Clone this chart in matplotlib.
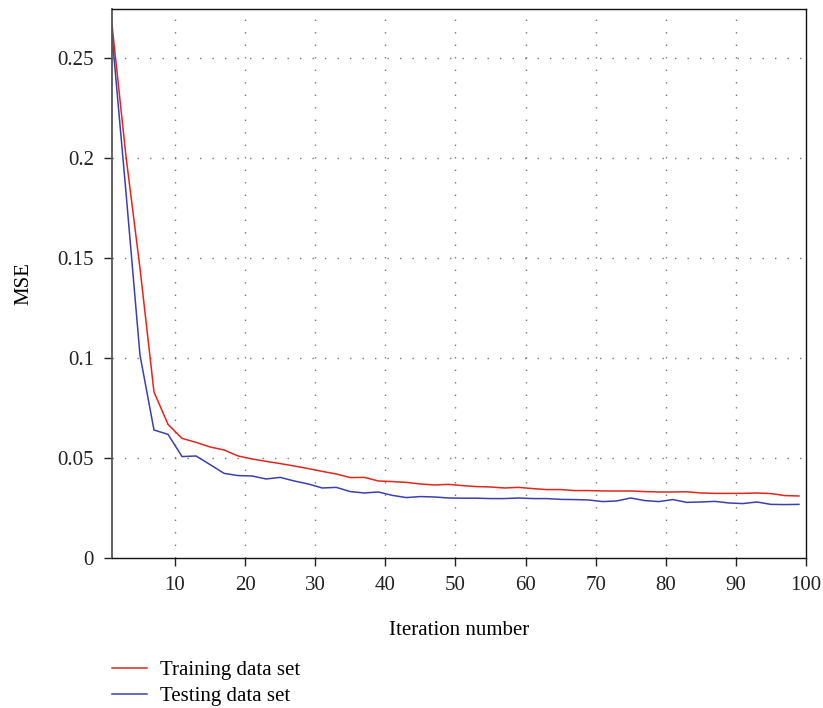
import matplotlib
matplotlib.use("Agg")
import matplotlib.pyplot as plt
import numpy as np

iterations = list(range(1, 100, 2))
train_mse = [0.267, 0.201, 0.145, 0.083, 0.0668, 0.0598, 0.0578, 0.0555, 0.054, 0.051,
             0.0495, 0.0483, 0.0472, 0.046, 0.0447, 0.0433, 0.042, 0.0402, 0.0403, 0.0385,
             0.0382, 0.0378, 0.037, 0.0365, 0.0368, 0.0362, 0.0357, 0.0355, 0.035, 0.0353,
             0.0347, 0.0342, 0.0342, 0.0337, 0.0337, 0.0335, 0.0335, 0.0335, 0.0332, 0.033,
             0.033, 0.0331, 0.0325, 0.0323, 0.0323, 0.0323, 0.0325, 0.0322, 0.0312, 0.031]
test_mse = [0.262, 0.183, 0.1015, 0.064, 0.0618, 0.0507, 0.051, 0.0467, 0.0423, 0.0412,
            0.041, 0.0395, 0.0403, 0.0385, 0.037, 0.035, 0.0353, 0.0332, 0.0325, 0.033,
            0.0313, 0.0302, 0.0307, 0.0305, 0.03, 0.0299, 0.0299, 0.0297, 0.0297, 0.03,
            0.0297, 0.0297, 0.0293, 0.0292, 0.029, 0.0282, 0.0285, 0.03, 0.0287, 0.0282,
            0.0292, 0.0278, 0.028, 0.0283, 0.0275, 0.0272, 0.028, 0.0268, 0.0267, 0.0268]

x_ticks = [10, 20, 30, 40, 50, 60, 70, 80, 90, 100]
y_ticks = [0, 0.05, 0.1, 0.15, 0.2, 0.25]
y_ticklabels = ["0", "0.05", "0.1", "0.15", "0.2", "0.25"]

plt.rcParams['font.family'] = ['Liberation Serif', 'DejaVu Serif']
FS = 15

fig = plt.figure(figsize=(8.23, 7.08), dpi=100)
ax = fig.add_axes([0.136, 0.2119, 0.8433, 0.7754])

l1, = ax.plot(iterations, train_mse, color='#e3251e', lw=1.1, label='Training data set')
l2, = ax.plot(iterations, test_mse, color='#3b40b0', lw=1.1, label='Testing data set')

ax.set_xlim(1, 100)
ax.set_ylim(0, 0.2745)
ax.set_xticks(x_ticks)
ax.set_yticks(y_ticks)
ax.set_yticklabels(y_ticklabels)
ax.tick_params(axis='both', direction='out', length=6, width=1.0, labelsize=FS,
               colors='#222222', top=False, right=False)
ax.tick_params(axis='x', pad=7)
ax.tick_params(axis='y', pad=7)

for x in x_ticks[:-1]:
    ax.axvline(x, color='#777777', lw=1.0, ls=(0, (1, 8)), zorder=0)
for y in y_ticks[1:]:
    ax.axhline(y, color='#777777', lw=1.0, ls=(0, (1, 8)), zorder=0)

for side in ['top', 'right', 'bottom']:
    ax.spines[side].set_color('#111111')
    ax.spines[side].set_linewidth(1.0)
ax.spines['left'].set_color('#555555')
ax.spines['left'].set_linewidth(1.3)

ax.set_xlabel('Iteration number', fontsize=FS, labelpad=19)
ax.set_ylabel('MSE', fontsize=FS, labelpad=17)

fig.legend(handles=[l1, l2], loc='upper left', bbox_to_anchor=(0.126, 0.079),
           frameon=False, fontsize=FS, handlelength=1.68, handletextpad=0.62,
           labelspacing=0.32, borderaxespad=0)

fig.savefig('out.png', dpi=100)
